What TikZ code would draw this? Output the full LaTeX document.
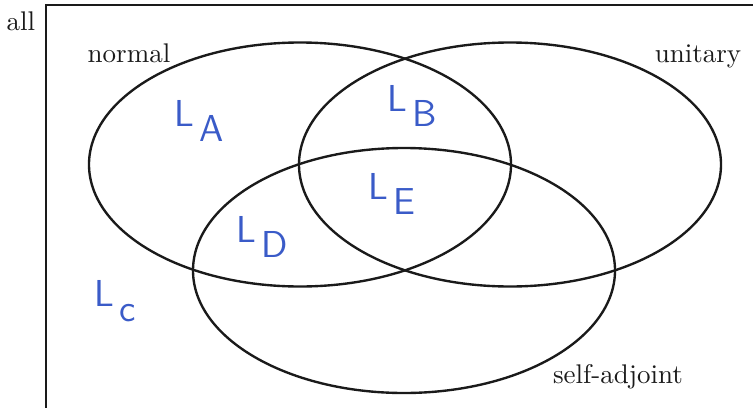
\documentclass[tikz,border=0pt]{standalone}
\usepackage{xcolor}
\usepackage{tikz}
\usetikzlibrary{positioning}
\definecolor{mInk}{HTML}{1A1A1A}
\definecolor{mPen}{HTML}{3A5BC8}
\tikzset{
  setline/.style={draw=mInk, line width=0.95pt},
  setname/.style={anchor=base, inner sep=0pt, font=\fontsize{10.8}{13}\selectfont, text=mInk},
  penlbl/.style={inner sep=0pt, font=\sffamily\fontsize{15}{18}\selectfont, text=mPen}
}
\newcommand{\penL}[1]{L\hspace{2pt}\raisebox{-6pt}{#1}}
\begin{document}
\begin{tikzpicture}[x=0.4pt, y=-0.4pt]
\useasboundingbox (0,0) rectangle (753,407);
\clip (0,0) rectangle (753,407);
% universe box, cut by the page edge
\draw[setline] (46,5) rectangle (820,460);
% the three sets
\draw[setline] (300,164.5) ellipse [x radius=211, y radius=122];
\draw[setline] (510,164.5) ellipse [x radius=211, y radius=122];
\draw[setline] (404,270.5) ellipse [x radius=211, y radius=122.5];
% set names
\node[setname] (all) at (21,30) {all};
\node[setname] (normal) at (129,62) {normal};
\node[setname] (unitary) at (698,62) {unitary};
\node[setname] (selfadj) at (618,383) {self-adjoint};
% region labels
\node[penlbl] (la) at (199,121) {\penL{A}};
\node[penlbl] (lb) at (412,106) {\penL{B}};
\node[penlbl] (le) at (392,194) {\penL{E}};
\node[penlbl] (ld) at (262,237) {\penL{D}};
\node[penlbl] (lc) at (115,301) {\penL{c}};
\end{tikzpicture}
\end{document}
